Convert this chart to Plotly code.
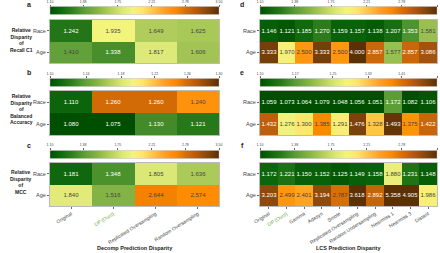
import numpy as np
import plotly.graph_objects as go

# ---------------- data ----------------
groups = ["Race", "Age"]
decomp_methods = ["Original", "DP (Ours)", "Replicated Oversampling", "Random Oversampling"]
lcs_methods = ["Original", "DP (Ours)", "Gamma", "Adasyn", "Smote",
               "Replicated Oversampling", "Random Undersampling",
               "Nearmiss 1", "Nearmiss 3", "Distant"]

recall_decomp = [[1.242, 1.935, 1.649, 1.625],
                 [1.410, 1.338, 1.817, 1.606]]
bacc_decomp = [[1.110, 1.260, 1.260, 1.240],
               [1.080, 1.075, 1.130, 1.121]]
mcc_decomp = [[1.181, 1.348, 1.805, 1.636],
              [1.840, 1.516, 2.644, 2.574]]
recall_lcs = [[1.146, 1.121, 1.185, 1.270, 1.159, 1.157, 1.138, 1.207, 1.353, 1.581],
              [3.333, 1.970, 2.500, 3.333, 2.500, 4.000, 2.857, 1.577, 2.857, 3.086]]
bacc_lcs = [[1.059, 1.073, 1.064, 1.079, 1.048, 1.056, 1.051, 1.172, 1.082, 1.106],
            [1.432, 1.276, 1.300, 1.385, 1.291, 1.476, 1.328, 1.493, 1.375, 1.422]]
mcc_lcs = [[1.172, 1.221, 1.150, 1.152, 1.125, 1.149, 1.158, 1.880, 1.231, 1.148],
           [3.203, 2.499, 2.401, 3.194, 2.787, 3.618, 2.892, 5.358, 4.905, 1.986]]

cb_ticks_wide = [1.10, 1.38, 1.75, 2.21, 2.78, 3.50]
cb_ticks_bacc_decomp = [1.10, 1.14, 1.18, 1.22, 1.26, 1.30]
cb_ticks_bacc_lcs = [1.10, 1.17, 1.25, 1.33, 1.41, 1.50]

row_titles = ["Relative<br>Disparity<br>of<br>Recall C1",
              "Relative<br>Disparity<br>of<br>Balanced<br>Accuracy",
              "Relative<br>Disparity<br>of<br>MCC"]
x_titles = ["Decomp Prediction Disparity", "LCS Prediction Disparity"]
letters = ["a", "b", "c", "d", "e", "f"]

# ---------------- styling / layout ----------------
W, H = 440, 253
FONT = "Liberation Sans, Arial, sans-serif"
colorscale = [
    [0.00, "#004f00"], [0.05, "#0a640a"], [0.12, "#2a7a1a"], [0.20, "#5a9c36"],
    [0.28, "#86b446"], [0.35, "#b0cc5c"], [0.43, "#dce878"], [0.49, "#f4f47c"],
    [0.55, "#ffe468"], [0.62, "#ffbe40"], [0.68, "#ffa020"], [0.74, "#ff8a00"],
    [0.81, "#d46c04"], [0.88, "#ac5610"], [0.95, "#7a420a"], [1.00, "#5a3005"],
]

col_px = [(50, 219), (260, 437)]
row_heat_px = [(20, 63), (91, 135), (163, 206)]
row_cb_px = [(7.5, 15.5), (79, 87), (150.5, 158.5)]
letter_px = [(29, 5), (29, 72), (29, 145), (242, 5), (242, 72), (242, 145)]
title_cy = [40, 109, 182]


def fx(p):
    return p / W


def fy(p):
    return 1 - p / H


panels = [
    (recall_decomp, decomp_methods, cb_ticks_wide, 0, 0),
    (bacc_decomp, decomp_methods, cb_ticks_bacc_decomp, 0, 1),
    (mcc_decomp, decomp_methods, cb_ticks_wide, 0, 2),
    (recall_lcs, lcs_methods, cb_ticks_wide, 1, 0),
    (bacc_lcs, lcs_methods, cb_ticks_bacc_lcs, 1, 1),
    (mcc_lcs, lcs_methods, cb_ticks_wide, 1, 2),
]

fig = go.Figure()
layout = dict(
    width=W, height=H, margin=dict(l=0, r=0, t=0, b=0),
    paper_bgcolor="white", plot_bgcolor="white",
    font=dict(family=FONT, color="#333"), showlegend=False,
)
annotations = []

for i, (vals, methods, cbt, col, row) in enumerate(panels, start=1):
    lo, hi = cbt[0], cbt[-1]
    x0, x1 = col_px[col]
    h0, h1 = row_heat_px[row]
    c0, c1 = row_cb_px[row]
    ca = "coloraxis" if i == 1 else f"coloraxis{i}"
    sfx = "" if i == 1 else str(i)

    z = np.log10(np.array(vals, dtype=float))
    text = [[f"{v:.3f}" for v in r] for r in vals]
    fig.add_trace(go.Heatmap(
        z=z, x=methods, y=groups, text=text, texttemplate="%{text}",
        textfont=dict(size=6, family=FONT), coloraxis=ca,
        xaxis=f"x{sfx}", yaxis=f"y{sfx}", hoverinfo="skip",
    ))
    layout[ca] = dict(
        colorscale=colorscale, cmin=np.log10(lo), cmax=np.log10(hi),
        colorbar=dict(
            orientation="h", x=fx(x0), xanchor="left", len=(x1 - x0) / W,
            lenmode="fraction", y=fy(c1), yanchor="bottom",
            thickness=c1 - c0, thicknessmode="pixels", xpad=0, ypad=0,
            ticks="", showticklabels=False, outlinewidth=0.5, outlinecolor="#bbbbbb",
        ),
    )
    bottom = row == 2
    tickvals = methods
    ticktext = [("<span style='color:#6aaa3a'>%s</span>" % m) if m == "DP (Ours)" else m
                for m in methods]
    layout[f"xaxis{sfx}"] = dict(
        domain=[fx(x0), fx(x1)], anchor=f"y{sfx}", type="category",
        tickvals=tickvals, ticktext=ticktext, showticklabels=bottom,
        tickangle=-32, tickfont=dict(size=5, color="#444"),
        ticks="outside" if bottom else "", ticklen=2, tickwidth=0.5, tickcolor="#666",
        showline=True, mirror=True, linecolor="#bbbbbb", linewidth=1,
        showgrid=False, zeroline=False, automargin=False, fixedrange=True,
    )
    layout[f"yaxis{sfx}"] = dict(
        domain=[fy(h1), fy(h0)], anchor=f"x{sfx}", type="category",
        autorange="reversed", tickfont=dict(size=5.5, color="#444"),
        ticks="outside", ticklen=2, tickwidth=0.5, tickcolor="#666",
        showline=True, mirror=True, linecolor="#bbbbbb", linewidth=1,
        showgrid=False, zeroline=False, automargin=False, fixedrange=True,
    )
    # tick-label axis for the colorbar (empty trace so the axis is drawn)
    j = i + 6
    fig.add_trace(go.Scatter(x=[], y=[], xaxis=f"x{j}", yaxis=f"y{j}",
                             mode="markers", hoverinfo="skip", showlegend=False))
    layout[f"xaxis{j}"] = dict(
        domain=[fx(x0), fx(x1)], anchor=f"y{j}", type="log",
        range=[np.log10(lo), np.log10(hi)], tickvals=cbt,
        ticktext=[f"{t:.2f}" for t in cbt], side="top",
        ticks="outside", ticklen=2, tickwidth=0.5, tickcolor="#666",
        tickfont=dict(size=3.5, color="#444"), showline=False,
        showgrid=False, zeroline=False, automargin=False, fixedrange=True,
    )
    layout[f"yaxis{j}"] = dict(
        domain=[fy(c1), fy(c0)], anchor=f"x{j}", range=[0, 1],
        visible=False, fixedrange=True,
    )
    lx, ly = letter_px[i - 1]
    annotations.append(dict(
        text=f"<b>{letters[i - 1]}</b>", x=fx(lx), y=fy(ly), xref="paper", yref="paper",
        showarrow=False, xanchor="center", yanchor="middle",
        font=dict(size=7, color="#222", family=FONT),
    ))

for r, t in enumerate(row_titles):
    annotations.append(dict(
        text=f"<b>{t}</b>", x=fx(21), y=fy(title_cy[r]), xref="paper", yref="paper",
        showarrow=False, xanchor="center", yanchor="middle", align="center",
        font=dict(size=5, color="#222", family=FONT),
    ))
for c, t in enumerate(x_titles):
    x0, x1 = col_px[c]
    annotations.append(dict(
        text=f"<b>{t}</b>", x=fx((x0 + x1) / 2), y=fy(248), xref="paper", yref="paper",
        showarrow=False, xanchor="center", yanchor="middle",
        font=dict(size=5.5, color="#222", family=FONT),
    ))

layout["annotations"] = annotations
fig.update_layout(**layout)
fig.write_html(
    "out.html",
    config={"displayModeBar": False},
    post_script="document.body.style.margin='0';document.body.style.overflow='hidden';",
)
